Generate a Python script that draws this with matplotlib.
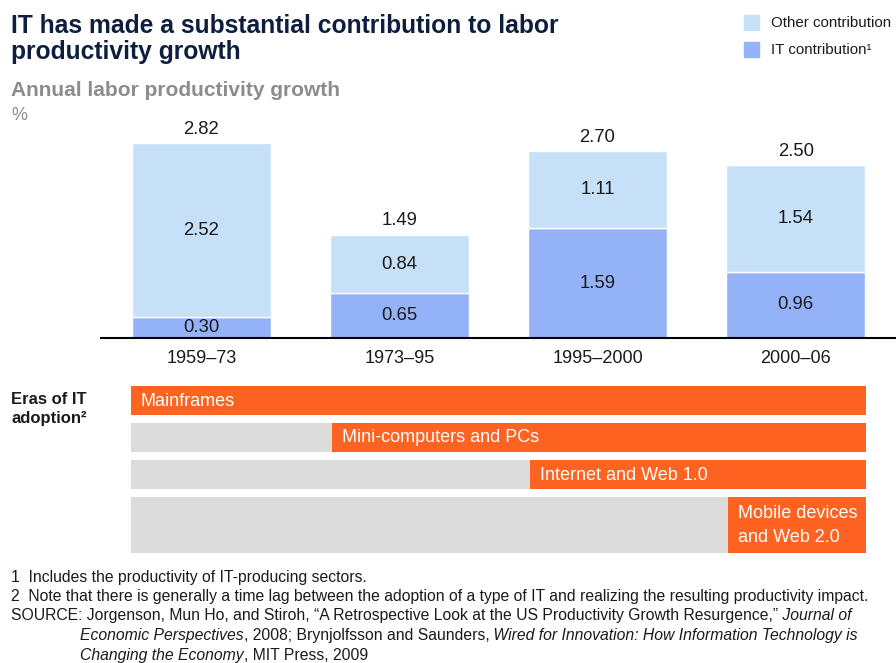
import matplotlib
matplotlib.use("Agg")
import matplotlib.pyplot as plt
from matplotlib.lines import Line2D
from matplotlib.patches import Rectangle

# data
periods = ["1959–73", "1973–95", "1995–2000", "2000–06"]
it_contrib = [0.30, 0.65, 1.59, 0.96]
other_contrib = [2.52, 0.84, 1.11, 1.54]
totals = [2.82, 1.49, 2.70, 2.50]

eras = ["Mainframes", "Mini-computers and PCs", "Internet and Web 1.0", "Mobile devices\nand Web 2.0"]
era_start = [0, 1, 2, 3]  # period index in which each era begins

footnote_1 = "1  Includes the productivity of IT-producing sectors."
footnote_2 = ("2  Note that there is generally a time lag between the adoption of a type of IT "
              "and realizing the resulting productivity impact.")
source_lines = [
    [("SOURCE: Jorgenson, Mun Ho, and Stiroh, “A Retrospective Look at the US Productivity "
      "Growth Resurgence,”", False), (" Journal of", True)],
    [("Economic Perspectives", True), (", 2008; Brynjolfsson and Saunders,", False),
     (" Wired for Innovation: How Information Technology is", True)],
    [("Changing the Economy", True), (", MIT Press, 2009", False)],
]

# style
W, H = 896, 663
C_OTHER = "#C6E0F7"
C_IT = "#93B2F8"
C_ORANGE = "#FF6322"
C_GRAY = "#DCDCDC"
C_TEXT = "#1A1A1A"
SANS = ["Liberation Sans", "DejaVu Sans"]

plt.rcParams["font.family"] = SANS


def fx(px):
    return px / W


def fy(py):
    return 1 - py / H


fig = plt.figure(figsize=(W / 100, H / 100), dpi=100)

# --- stacked bars ---
bar_w = 0.704
xlo, xhi = -0.355, 3.355
ax = fig.add_axes([fx(131), fy(338), fx(866) - fx(131), fy(120) - fy(338)])
x = list(range(len(periods)))
ax.bar(x, it_contrib, width=bar_w, color=C_IT, edgecolor="white", linewidth=1)
ax.bar(x, other_contrib, width=bar_w, bottom=it_contrib, color=C_OTHER, edgecolor="white", linewidth=1)
ax.set_xlim(xlo, xhi)
ax.set_ylim(0, 218 / 69.1)
for s in ax.spines.values():
    s.set_visible(False)
ax.set_yticks([])
ax.set_xticks(x)
ax.set_xticklabels(periods, fontsize=13, color=C_TEXT)
ax.tick_params(axis="x", length=0, pad=8.5)

for i in x:
    ax.text(i, it_contrib[i] / 2, f"{it_contrib[i]:.2f}", ha="center", va="center",
            fontsize=13.3, color=C_TEXT)
    ax.text(i, it_contrib[i] + other_contrib[i] / 2, f"{other_contrib[i]:.2f}", ha="center",
            va="center", fontsize=13.3, color=C_TEXT)
    ax.annotate(f"{totals[i]:.2f}", (i, totals[i]), xytext=(0, 4), textcoords="offset points",
                ha="center", va="bottom", fontsize=13.3, color=C_TEXT)

fig.add_artist(Line2D([fx(101), fx(895)], [fy(338), fy(338)], color="black", lw=1.5))

# --- eras of IT adoption ---
row_top = [386, 423, 460, 497]
row_h = [29, 29, 29, 56]
ex = fig.add_axes([fx(131), fy(553), fx(866) - fx(131), fy(386) - fy(553)])
ex.set_xlim(xlo, xhi)
ex.set_ylim(553, 386)
ex.axis("off")
for k, name in enumerate(eras):
    ex.barh(row_top[k], xhi - xlo, left=xlo, height=row_h[k], align="edge", color=C_GRAY)
    left = era_start[k] - bar_w / 2 + 0.012 if era_start[k] > 0 else xlo
    ex.barh(row_top[k], xhi - left, left=left, height=row_h[k], align="edge", color=C_ORANGE)
    ex.text(left + 0.05, row_top[k] + row_h[k] / 2 + 0.5, name, ha="left", va="center",
            color="white", fontsize=13, linespacing=1.5)

fig.text(fx(11), fy(409), "Eras of IT\nadoption²", ha="left", va="center", fontsize=12,
         fontweight="bold", color=C_TEXT, linespacing=1.3)

# --- titles ---
fig.text(fx(11), fy(33), "IT has made a substantial contribution to labor", fontsize=17.7,
         fontweight="bold", color="#0E1E3E", va="baseline")
fig.text(fx(11), fy(59), "productivity growth", fontsize=17.7, fontweight="bold",
         color="#0E1E3E", va="baseline")
fig.text(fx(11), fy(96), "Annual labor productivity growth", fontsize=15, fontweight="bold",
         color="#8C8C8C", va="baseline")
fig.text(fx(11), fy(120), "%", fontsize=13, color="#8C8C8C", va="baseline")

# --- legend ---
for yy, col, lab in [(15, C_OTHER, "Other contribution"), (42, C_IT, "IT contribution¹")]:
    fig.add_artist(Rectangle((fx(744), fy(yy + 15)), fx(15), fy(0) - fy(15), color=col,
                             transform=fig.transFigure))
    fig.text(fx(771), fy(yy + 8), lab, fontsize=10.9, color=C_TEXT, va="center")

# --- footnotes ---
fn_kw = dict(fontsize=11.3, color=C_TEXT, va="baseline")
fig.text(fx(11), fy(582), footnote_1, **fn_kw)
fig.text(fx(11), fy(601), footnote_2, **fn_kw)
renderer = fig.canvas.get_renderer()
for n, segs in enumerate(source_lines):
    xpos = fx(11) if n == 0 else fx(80)
    for txt, ital in segs:
        t = fig.text(xpos, fy(620 + 20 * n), txt, style="italic" if ital else "normal", **fn_kw)
        xpos = t.get_window_extent(renderer).x1 / fig.bbox.width

fig.savefig("out.png", dpi=100)
